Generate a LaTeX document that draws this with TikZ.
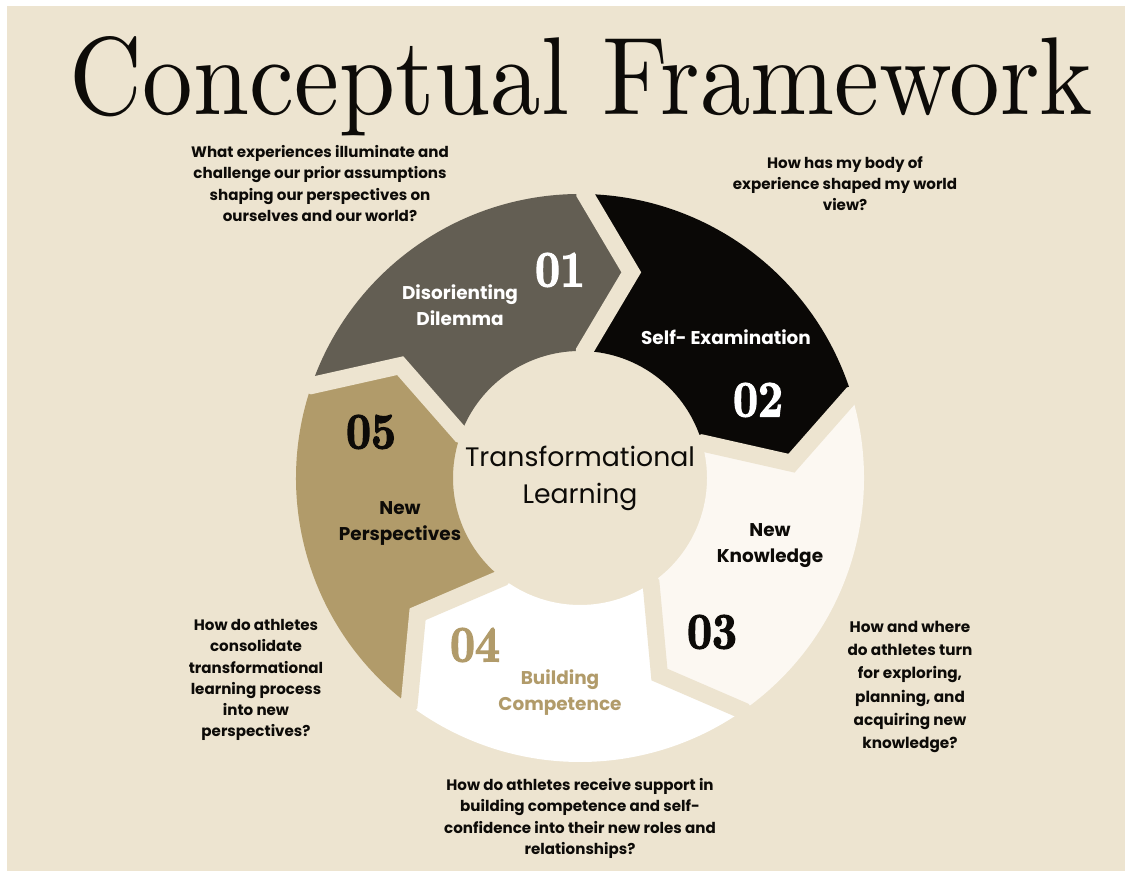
\documentclass[tikz,border=0pt]{standalone}
\usepackage{fontspec}
\usepackage{xcolor}
\usepackage{tikz}
\newfontfamily\poppins{Poppins}
\newfontfamily\fatface{lmroman10-bold.otf}[FakeBold=2.5, FakeStretch=0.85]
\definecolor{paper}{HTML}{EDE4D0}
\definecolor{ink}{HTML}{0D0B08}
\definecolor{slate}{HTML}{635E53}
\definecolor{coal}{HTML}{0A0806}
\definecolor{ivory}{HTML}{FCF8F2}
\definecolor{snow}{HTML}{FFFFFF}
\definecolor{sand}{HTML}{B19B6A}
\tikzset{
  gap/.style={draw=paper, line width=0.34cm, line join=miter},
  ttl/.style={text=ink, anchor=base, inner sep=0pt},
  qst/.style={text=ink, align=center, font=\poppins\bfseries\fontsize{8.6}{12}\selectfont},
  lab/.style={align=center, font=\poppins\bfseries\fontsize{10.5}{14.8}\selectfont},
  num/.style={font=\fatface\fontsize{29}{29}\selectfont},
  hub/.style={text=ink, align=center, font=\poppins\fontsize{15.2}{21}\selectfont},
}

\begin{document}
\begin{tikzpicture}[x=0.02cm, y=0.02cm]
  \useasboundingbox (0,0) rectangle (1125,871);
  \fill[white] (0,0) rectangle (1125,871);
  \fill[paper] (7,0) rectangle (1125,865);

  \begin{scope}[shift={(580,393)}]
    \foreach \b/\col in {161/slate, 89/coal, 17/ivory, -55/snow, -127/sand}
      \fill[\col] (\b:284) arc[start angle=\b, end angle=\b-72, radius=284]
        -- (\b-85:212) -- (\b-73:127)
        arc[start angle=\b-73, end angle=\b-1, radius=127]
        -- (\b-13:212) -- cycle;
    \foreach \b in {161, 89, 17, -55, -127}
      \draw[gap] (\b:300) -- (\b:284) -- (\b-13:212) -- (\b-1:127) -- (\b-1:110);
  \end{scope}

  \node[ttl] (title) at (581.5,756) {\resizebox{20.46cm}{1.56cm}{Conceptual Framework}};

  \node[qst] (q1) at (320,687.5) {What experiences illuminate and\\challenge our prior assumptions\\shaping our perspectives on\\ourselves and our world?};
  \node[qst] (q2) at (845,687.5) {How has my body of\\experience shaped my world\\view?};
  \node[qst, font=\poppins\bfseries\fontsize{8.7}{13.2}\selectfont] (q3) at (910,184) {How and where\\do athletes turn\\for exploring,\\planning, and\\acquiring new\\knowledge?};
  \node[qst] (q4) at (256,191) {How do athletes\\consolidate\\transformational\\learning process\\into new\\perspectives?};
  \node[qst] (q5) at (580,52.5) {How do athletes receive support in\\building competence and self-\\confidence into their new roles and\\relationships?};

  \node[lab, text=white] (l1) at (460,566) {Disorienting\\Dilemma};
  \node[lab, text=white] (l2) at (726,534) {Self- Examination};
  \node[lab, text=ink] (l3) at (770,325) {New\\Knowledge};
  \node[lab, text=sand] (l4) at (560,178) {Building\\Competence};
  \node[lab, text=ink] (l5) at (400,348) {New\\Perspectives};

  \node[num, text=white] (n1) at (560,601) {01};
  \node[num, text=white] (n2) at (758,471) {02};
  \node[num, text=ink] (n3) at (712,239) {03};
  \node[num, text=sand] (n4) at (475,226) {04};
  \node[num, text=ink] (n5) at (371,439) {05};

  \node[hub] (hub) at (580,393) {Transformational\\Learning};
\end{tikzpicture}
\end{document}
